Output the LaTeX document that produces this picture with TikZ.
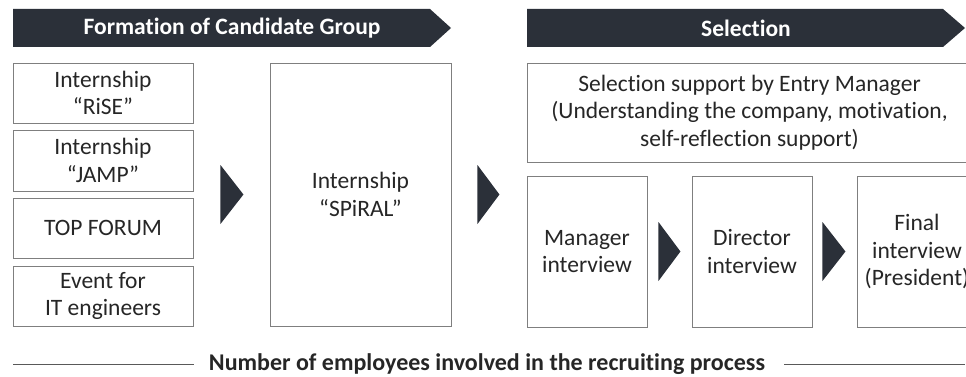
\documentclass[tikz,border=0pt]{standalone}
\usepackage{fontspec}
\setmainfont{Carlito}[Ligatures=NoCommon]
\usetikzlibrary{calc}
\definecolor{navy}{HTML}{2B3039}
\definecolor{frame}{HTML}{7F7F7F}
\definecolor{ink}{HTML}{262626}
\definecolor{rule}{HTML}{595959}
\begin{document}
\begin{tikzpicture}[x=1pt,y=-1pt,
  box/.style={draw=frame, line width=0.9pt, fill=white, text=ink, align=center,
    inner sep=0pt, font=\fontsize{23.5}{27.5}\selectfont},
  bannerfill/.style={fill=navy},
  bannertext/.style={text=white, inner sep=0pt, font=\fontsize{23.5}{27}\selectfont\bfseries},
  chevron/.style={fill=navy},
  footnote/.style={text=ink, inner sep=0pt, font=\fontsize{24}{27}\selectfont\bfseries},
  footrule/.style={draw=rule, line width=0.9pt}]
\useasboundingbox (0,0) rectangle (966,377);
\clip (0,0) rectangle (966,377);

% phase banners
\fill[bannerfill] (13,9) -- (430,9) -- (451,28) -- (430,47) -- (13,47) -- cycle;
\node[bannertext] (phase1) at (232,28) {Formation of Candidate Group};
\fill[bannerfill] (527,9) -- (943,9) -- (965,28) -- (943,47) -- (527,47) -- cycle;
\node[bannertext] (phase2) at (746,28) {Selection};

% candidate group sources
\node[box, minimum width=180, minimum height=60] (rise)   at (103,93)    {Internship\\“RiSE”};
\node[box, minimum width=180, minimum height=61] (jamp)   at (103,160.5) {Internship\\“JAMP”};
\node[box, minimum width=180, minimum height=60] (forum)  at (103,228)   {TOP FORUM};
\node[box, minimum width=180, minimum height=60] (itev)   at (103,296)   {Event for\\IT engineers};
\node[box, minimum width=181, minimum height=263] (spiral) at (360.5,194.5) {Internship\\“SPiRAL”};

% selection stage
\node[box, minimum width=445, minimum height=99] (support) at (749.5,112.5)
  {Selection support by Entry Manager\\(Understanding the company, motivation,\\self-reflection support)};
\node[box, minimum width=120, minimum height=151] (mgr)   at (587,251.5) {Manager\\interview};
\node[box, minimum width=120, minimum height=151] (dir)   at (752,251.5) {Director\\interview};
\node[box, minimum width=120, minimum height=151] (final) at (917,251.5) {Final\\interview\\(President)};

% chevrons between the stages
\fill[chevron] ($(rise.east |- spiral.center)+(27,-29.5)$) -- ++(23,29.5) -- ++(-23,29.5) -- cycle;
\fill[chevron] ($(spiral.east)+(26,-29.5)$) -- ++(22,29.5) -- ++(-22,29.5) -- cycle;
\fill[chevron] ($(mgr.east)+(11,-29.5)$) -- ++(22,29.5) -- ++(-22,29.5) -- cycle;
\fill[chevron] ($(dir.east)+(10,-29.5)$) -- ++(23,29.5) -- ++(-23,29.5) -- cycle;

% footer
\node[footnote] (staff) at (487,364) {Number of employees involved in the recruiting process};
\coordinate (ruleL) at (13,364);
\coordinate (ruleR) at (965,364);
\draw[footrule] (ruleL) -- ($(staff.west)+(-15,0)$);
\draw[footrule] ($(staff.east)+(19,0)$) -- (ruleR);
\end{tikzpicture}
\end{document}
